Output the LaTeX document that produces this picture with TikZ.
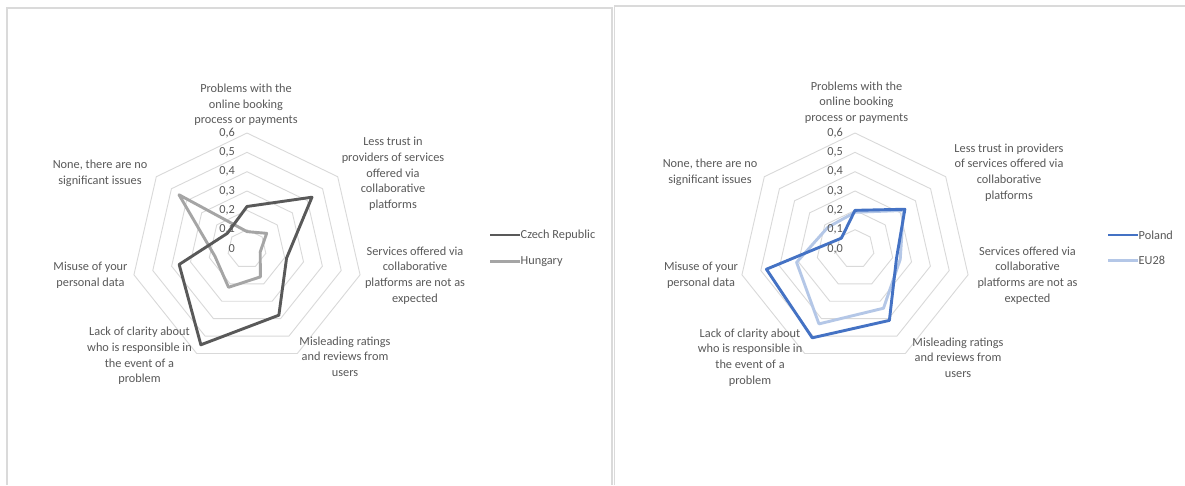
\documentclass[tikz,border=0pt]{standalone}
\usepackage{fontspec}
\setmainfont{Carlito}
\definecolor{lbl}{HTML}{595959}
\definecolor{gridc}{HTML}{D9D9D9}
\definecolor{czech}{HTML}{595959}
\definecolor{hung}{HTML}{A5A5A5}
\definecolor{pol}{HTML}{4472C4}
\definecolor{eu}{HTML}{B4C7E7}
\definecolor{frame}{HTML}{DADADA}
\def\RR{193.3}
\newcommand\ringshape[1]{(90:{#1}) -- ({90-360/7}:{#1}) -- ({90-720/7}:{#1}) -- ({90-1080/7}:{#1}) -- ({90-1440/7}:{#1}) -- ({90-1800/7}:{#1}) -- ({90-2160/7}:{#1}) -- cycle}
\newcommand\series[8]{\draw[#1] (90:{#2*\RR}) -- ({90-360/7}:{#3*\RR}) -- ({90-720/7}:{#4*\RR}) -- ({90-1080/7}:{#5*\RR}) -- ({90-1440/7}:{#6*\RR}) -- ({90-1800/7}:{#7*\RR}) -- ({90-2160/7}:{#8*\RR}) -- cycle;}
\tikzset{
  lab/.style={align=center, text=lbl, font=\fontsize{12.3}{15.7}\selectfont, inner sep=0pt},
  val/.style={anchor=east, text=lbl, font=\fontsize{12.3}{14}\selectfont, inner sep=0pt},
  leg/.style={anchor=west, text=lbl, font=\fontsize{12.3}{14}\selectfont, inner sep=0pt},
  ring/.style={draw=gridc, line width=0.9pt},
  serie/.style={line width=2.9pt, line join=round},
  panel/.style={draw=frame, line width=1.3pt}
}
\begin{document}
\begin{tikzpicture}[x=1pt,y=-1pt]
\useasboundingbox (0,0) rectangle (1185,485);
\fill[white] (0,0) rectangle (1185,485);
% panel frames
\draw[panel] (7,485) -- (7,8) -- (612,8) -- (612,485);
\draw[panel] (614.5,485) -- (614.5,6) -- (1185,6);

% ---------- left chart ----------
\begin{scope}[shift={(247,249)}, yscale=-1]
  \foreach \i in {1,...,6} { \draw[ring] \ringshape{\i*\RR/10}; }
  \series{serie, draw=hung}{0.09}{0.13}{0.07}{0.16}{0.22}{0.17}{0.45}
  \series{serie, draw=czech}{0.22}{0.43}{0.21}{0.38}{0.55}{0.36}{0.13}
\end{scope}
\foreach \v/\t in {0/0,1/{0,1},2/{0,2},3/{0,3},4/{0,4},5/{0,5},6/{0,6}}
  { \node[val] (lv\v) at (235,{249-\v*\RR/10}) {\t}; }
\node[lab] (lA) at (246,105) {Problems with the\\online booking\\process or payments};
\node[lab] (lB) at (393,174) {Less trust in\\providers of services\\offered via\\collaborative\\platforms};
\node[lab] (lC) at (415,275.5) {Services offered via\\collaborative\\platforms are not as\\expected};
\node[lab] (lD) at (345,356.5) {Misleading ratings\\and reviews from\\users};
\node[lab] (lE) at (139.5,356) {Lack of clarity about\\who is responsible in\\the event of a\\problem};
\node[lab] (lF) at (90.5,275) {Misuse of your\\personal data};
\node[lab] (lG) at (100,173.5) {None, there are no\\significant issues};
\coordinate (lc1a) at (490,235); \coordinate (lc1b) at (520,235);
\draw[serie, draw=czech] (lc1a) -- (lc1b);
\node[leg] (lcz) at (520.5,235) {Czech Republic};
\coordinate (lc2a) at (490,261.5); \coordinate (lc2b) at (520,261.5);
\draw[serie, draw=hung] (lc2a) -- (lc2b);
\node[leg] (lhu) at (520.5,261.5) {Hungary};

% ---------- right chart ----------
\begin{scope}[shift={(855,249)}, yscale=-1]
  \foreach \i in {1,...,6} { \draw[ring] \ringshape{\i*\RR/10}; }
  \series{serie, draw=eu}{0.19}{0.32}{0.24}{0.34}{0.43}{0.31}{0.18}
  \series{serie, draw=pol}{0.20}{0.33}{0.22}{0.41}{0.51}{0.47}{0.09}
\end{scope}
\foreach \v/\t in {0/{0,0},1/{0,1},2/{0,2},3/{0,3},4/{0,4},5/{0,5},6/{0,6}}
  { \node[val] (rv\v) at (843,{249-\v*\RR/10}) {\t}; }
\node[lab] (rA) at (856.5,102.5) {Problems with the\\online booking\\process or payments};
\node[lab] (rB) at (1009,172.5) {Less trust in providers\\of services offered via\\collaborative\\platforms};
\node[lab] (rC) at (1027.5,275.5) {Services offered via\\collaborative\\platforms are not as\\expected};
\node[lab] (rD) at (958,357.5) {Misleading ratings\\and reviews from\\users};
\node[lab] (rE) at (750,357.5) {Lack of clarity about\\who is responsible in\\the event of a\\problem};
\node[lab] (rF) at (701,275) {Misuse of your\\personal data};
\node[lab] (rG) at (710,172.5) {None, there are no\\significant issues};
\coordinate (rc1a) at (1108,235); \coordinate (rc1b) at (1138,235);
\draw[serie, draw=pol] (rc1a) -- (rc1b);
\node[leg] (rpl) at (1138.5,235) {Poland};
\coordinate (rc2a) at (1108,260.5); \coordinate (rc2b) at (1138,260.5);
\draw[serie, draw=eu] (rc2a) -- (rc2b);
\node[leg] (reu) at (1138.5,260.5) {EU28};
\end{tikzpicture}
\end{document}
